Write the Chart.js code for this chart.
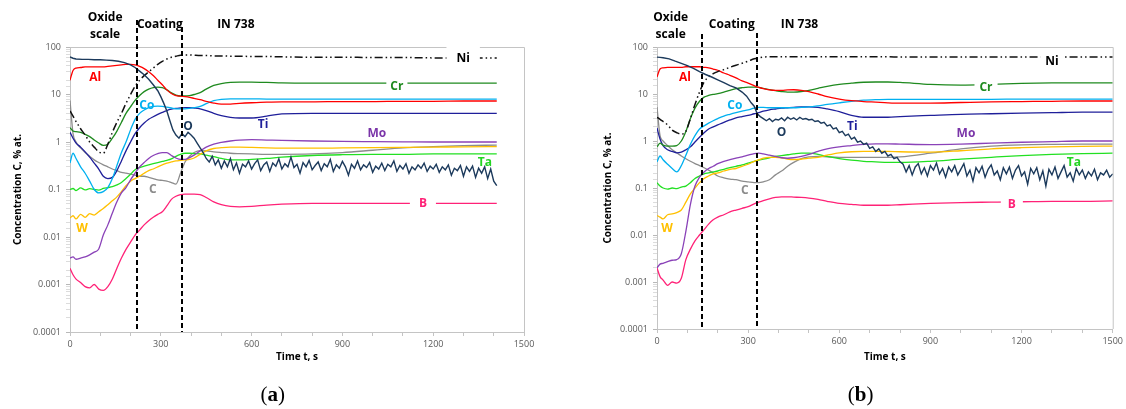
<!DOCTYPE html>
<html>
<head>
<meta charset="utf-8">
<script src="https://cdn.jsdelivr.net/npm/chart.js@4"></script>
<style>
  body { margin: 0; background: #fff; width: 1126px; height: 409px; overflow: hidden; position: relative; }
  .panel { position: absolute; top: 0; width: 563px; height: 409px; }
</style>
</head>
<body>
<div class="panel" style="left:0"><canvas id="chartA" width="563" height="409"></canvas></div>
<div class="panel" style="left:563px"><canvas id="chartB" width="563" height="409"></canvas></div>
<script>
// ---- panel (a) ----
const tA = [0,10,20,35,50,65,80,95,110,125,
  140,155,170,185,200,215,230,245,260,275,
  290,305,320,335,350,365,380,395,410,430,
  450,475,500,530,560,600,650,700,800,900,
  1000,1100,1200,1300,1410];

const niA = [4.5,3.5,2.7,1.9,1.4,1.0,0.78,0.62,0.58,0.9,
  1.6,2.6,4,6.5,10,15,20,25,30,36,
  43,50,56,61,64,67,68,68,67,66,
  66,65,65,64,64,63,63,62,61,61,
  60,60,59,59,59];
const alA = [20,32,36,37,38,38,38,38,38,39,
  40,41,42,43,43,42,39,35,30,25,
  20,16,12.5,10.5,9.5,9.2,9,8.7,8.3,7.8,
  7.2,6.6,6.3,6.3,6.5,6.7,6.9,7,7,7.1,
  7.1,7.2,7.2,7.3,7.3];
const crA = [2.0,1.7,1.65,1.6,1.45,1.3,1.1,0.95,0.85,0.9,
  1.2,1.7,2.6,4,5.5,7.5,9.5,11.5,13,14,
  14.3,14,12.5,10.8,9.7,9.3,9.3,9.5,10,11,
  13,15.5,17,18,18.3,18.3,18,17.5,17.3,17.3,
  17.3,17.3,17.3,17.3,17.3];
const coA = [0.36,0.58,0.45,0.3,0.22,0.15,0.1,0.085,0.09,0.11,
  0.17,0.32,0.6,1.0,1.8,3.0,4.0,4.7,5.3,5.6,
  5.7,5.6,5.4,5.2,5.0,5.0,5.0,5.1,5.3,5.6,
  6.4,7.4,7.9,8.1,8.1,8.1,8,8,8,8,
  8,8,8,8,8];
const tiA = [1.6,1.2,0.95,0.78,0.62,0.48,0.36,0.27,0.19,0.17,
  0.18,0.25,0.4,0.65,1.0,1.5,2.0,2.5,3.0,3.4,
  3.8,4.2,4.6,4.9,5.1,5.2,5.3,5.3,5.2,5.0,
  4.6,4.0,3.6,3.3,3.2,3.2,3.5,3.9,4.0,4.0,
  4.0,4.0,4.0,4.0,4.0];
const moA = [0.0036,0.0038,0.0034,0.0036,0.0038,0.0042,0.0048,0.0056,0.011,0.018,
  0.032,0.055,0.085,0.11,0.16,0.22,0.3,0.37,0.45,0.52,
  0.57,0.6,0.6,0.52,0.46,0.43,0.43,0.47,0.53,0.65,
  0.78,0.9,0.98,1.05,1.1,1.12,1.1,1.08,1.05,1.03,
  1.02,1.01,1.0,1.0,1.0];
const wA = [0.025,0.028,0.024,0.03,0.026,0.031,0.029,0.034,0.04,0.048,
  0.058,0.07,0.09,0.12,0.15,0.17,0.19,0.22,0.25,0.27,
  0.3,0.33,0.36,0.38,0.4,0.41,0.42,0.43,0.46,0.55,
  0.65,0.73,0.76,0.78,0.78,0.77,0.75,0.74,0.74,0.75,
  0.76,0.77,0.78,0.79,0.8];
const taA = [0.1,0.105,0.095,0.108,0.098,0.104,0.1,0.097,0.105,0.11,
  0.115,0.125,0.14,0.17,0.21,0.26,0.29,0.31,0.33,0.35,
  0.37,0.39,0.41,0.44,0.5,0.55,0.58,0.58,0.57,0.56,
  0.53,0.49,0.45,0.42,0.42,0.43,0.45,0.48,0.52,0.54,
  0.55,0.55,0.56,0.56,0.56];
const cA = [7.5,1.5,1.0,0.75,0.6,0.5,0.42,0.37,0.33,0.3,
  0.27,0.25,0.23,0.22,0.21,0.2,0.19,0.19,0.18,0.17,
  0.16,0.155,0.15,0.14,0.13,0.22,0.38,0.5,0.6,0.66,
  0.65,0.62,0.6,0.58,0.57,0.56,0.55,0.55,0.56,0.6,
  0.67,0.75,0.8,0.84,0.86];
const bA = [0.0022,0.0016,0.0013,0.0011,0.0009,0.00085,0.001,0.0008,0.00075,0.0009,
  0.0013,0.0022,0.0036,0.0055,0.0078,0.011,0.014,0.018,0.022,0.026,
  0.03,0.034,0.045,0.062,0.072,0.078,0.08,0.08,0.08,0.078,
  0.068,0.055,0.048,0.044,0.043,0.044,0.047,0.049,0.051,0.051,
  0.051,0.051,0.051,0.051,0.051];

const tOa = [0,10,20,40,60,80,100,120,140,160,
  180,200,215,230,245,260,275,290,300,310,
  320,330,340,350,360,370,380,390,400,410,
  420,430,440,450,
  460,470,480,490,500,510,520,530,540,550,
  560,570,580,590,600,610,620,630,640,650,
  660,670,680,690,700,710,720,730,740,750,
  760,770,780,790,800,810,820,830,840,850,
  860,870,880,890,900,910,920,930,940,950,
  960,970,980,990,1000,1010,1020,1030,1040,1050,
  1060,1070,1080,1090,1100,1110,1120,1130,1140,1150,
  1160,1170,1180,1190,1200,1210,1220,1230,1240,1250,
  1260,1270,1280,1290,1300,1310,1320,1330,1340,1350,
  1360,1370,1380,1390,1400,1410];
const oA = [62,58,56,55,55,54,54,53,52,50,
  47,42,37,31,26,21,16,12,9,6.5,
  4.5,2.8,1.8,1.4,1.2,1.5,1.3,1.6,1.4,1.2,
  0.95,0.75,0.6,0.45,
  0.38,0.5,0.33,0.42,0.28,0.4,0.3,0.45,0.26,0.36,
  0.22,0.34,0.3,0.4,0.27,0.35,0.42,0.25,0.33,0.38,
  0.24,0.36,0.31,0.44,0.27,0.35,0.3,0.48,0.29,0.34,
  0.22,0.37,0.3,0.41,0.26,0.32,0.38,0.25,0.35,0.3,
  0.43,0.24,0.33,0.28,0.39,0.3,0.2,0.34,0.28,0.4,
  0.26,0.33,0.29,0.37,0.23,0.31,0.27,0.36,0.25,0.34,
  0.3,0.4,0.24,0.32,0.27,0.35,0.22,0.3,0.26,0.33,
  0.28,0.36,0.24,0.31,0.27,0.34,0.23,0.3,0.26,0.33,
  0.2,0.28,0.25,0.32,0.19,0.3,0.24,0.31,0.18,0.28,
  0.22,0.3,0.17,0.27,0.15,0.12];

// ---- panel (b) ----
const tB = [0,10,20,35,50,65,80,95,110,125,
  140,155,170,185,200,220,240,260,280,300,
  320,335,350,370,390,410,430,450,475,500,
  530,560,600,640,680,720,760,800,900,1000,
  1100,1200,1300,1400,1500];

const niB = [3.2,2.9,2.6,2.2,1.7,1.5,1.4,1.6,3,6,
  11,18,23,27,30,33,37,41,45,50,
  56,59,61,62,62,62,62,62,62,62,
  62,62,62,62,62,62,62,61,61,61,
  61,61,61,61,61];
const alB = [23,34,36,37,37,37,37,38,38,38,
  38,37,36,34,32,28,25,22,19,17,
  15,13.8,13,12.3,12,12,12.2,12.3,12,11.2,
  10,8.8,7.8,7.2,6.9,6.7,6.5,6.4,6.4,6.6,
  6.8,6.9,7,7.1,7.1];
const crB = [0.75,0.9,0.82,0.78,0.78,0.8,1.0,1.6,3,5,
  7,8.6,9.3,9.8,10.2,11,12,13,13.6,14,
  14,13.8,13.2,12.4,11.8,11.3,11,11,11.3,12,
  13.2,14.5,16,17,17.8,18,18,17.6,16,15.5,
  16,16.8,17.2,17.3,17.3];
const coB = [0.36,0.48,0.4,0.32,0.26,0.22,0.3,0.5,0.85,1.3,
  1.8,2.1,2.4,2.7,3.0,3.4,3.7,4.0,4.3,4.6,
  5.0,5.2,5.2,5.1,5.1,5.1,5.1,5.1,5.2,5.3,
  5.6,6,6.5,7,7.4,7.6,7.7,7.7,7.7,7.7,
  7.7,7.8,7.8,7.8,7.8];
const tiB = [1.9,1.1,0.8,0.65,0.6,0.56,0.58,0.65,0.75,0.95,
  1.2,1.5,1.8,2.0,2.2,2.5,2.8,3.1,3.3,3.5,
  3.8,4.0,4.3,4.6,4.8,5.0,5.1,5.2,5.3,5.3,
  5.2,4.8,4.2,3.5,3.2,3.2,3.2,3.3,3.5,3.7,
  3.8,3.9,4.0,4.1,4.1];
const moB = [0.002,0.0024,0.0025,0.0027,0.0029,0.003,0.004,0.012,0.045,0.11,
  0.17,0.22,0.26,0.29,0.33,0.37,0.4,0.43,0.46,0.5,
  0.54,0.55,0.53,0.5,0.47,0.44,0.43,0.44,0.47,0.52,
  0.6,0.68,0.75,0.8,0.85,0.87,0.87,0.86,0.84,0.86,
  0.9,0.94,0.97,1.0,1.0];
const wB = [0.026,0.024,0.022,0.027,0.028,0.03,0.034,0.05,0.075,0.1,
  0.13,0.16,0.18,0.2,0.21,0.23,0.25,0.26,0.29,0.32,
  0.37,0.4,0.43,0.45,0.45,0.44,0.41,0.4,0.41,0.43,
  0.45,0.5,0.56,0.59,0.6,0.6,0.6,0.59,0.58,0.62,
  0.68,0.72,0.75,0.77,0.78];
const taB = [0.13,0.11,0.1,0.095,0.1,0.097,0.105,0.11,0.13,0.16,
  0.18,0.2,0.21,0.22,0.23,0.25,0.27,0.29,0.31,0.34,
  0.37,0.39,0.41,0.44,0.47,0.49,0.51,0.53,0.55,0.55,
  0.52,0.47,0.42,0.39,0.37,0.36,0.35,0.35,0.37,0.41,
  0.45,0.49,0.52,0.54,0.55];
const cB = [5.3,1.3,1.0,0.8,0.65,0.56,0.48,0.42,0.37,0.33,
  0.3,0.27,0.24,0.21,0.18,0.165,0.155,0.15,0.14,0.135,
  0.13,0.13,0.135,0.15,0.19,0.23,0.29,0.35,0.42,0.46,
  0.47,0.46,0.45,0.45,0.45,0.45,0.45,0.46,0.55,0.68,
  0.78,0.83,0.85,0.86,0.86];
const bB = [0.002,0.0013,0.0011,0.00085,0.001,0.00095,0.0012,0.003,0.005,0.0075,
  0.01,0.013,0.017,0.021,0.024,0.027,0.031,0.034,0.037,0.04,
  0.046,0.05,0.054,0.059,0.063,0.065,0.065,0.064,0.063,0.061,
  0.057,0.052,0.047,0.045,0.043,0.043,0.043,0.044,0.047,0.049,
  0.05,0.051,0.052,0.052,0.053];

const tOb = [0,10,20,40,60,80,100,120,140,160,
  180,200,220,240,260,280,295,310,320,330,
  340,350,360,370,380,390,400,410,420,430,
  440,450,460,470,480,490,500,510,520,530,
  540,550,560,570,580,590,600,610,620,630,
  640,650,660,670,680,690,700,710,720,730,
  740,750,760,770,780,790,800,
  810,820,830,840,850,860,870,880,890,900,
  910,920,930,940,950,960,970,980,990,1000,
  1010,1020,1030,1040,1050,1060,1070,1080,1090,1100,
  1110,1120,1130,1140,1150,1160,1170,1180,1190,1200,
  1210,1220,1230,1240,1250,1260,1270,1280,1290,1300,
  1310,1320,1330,1340,1350,1360,1370,1380,1390,1400,
  1410,1420,1430,1440,1450,1460,1470,1480,1490,1500];
const oB = [61,60,59,56,50,45,40,35,30,26,
  23,20,17.5,15,13.5,11,9,6.5,5.5,3.8,
  3.3,3.0,2.7,3.0,2.6,2.9,2.8,3.1,2.7,3.2,
  2.9,3.1,2.8,3.2,2.9,3.0,2.8,2.9,2.6,2.7,
  2.4,2.5,2.1,2.2,1.8,1.9,1.5,1.6,1.3,1.4,
  1.1,1.2,0.95,1.0,0.85,0.9,0.7,0.75,0.6,0.68,
  0.55,0.6,0.48,0.52,0.42,0.45,0.36,
  0.32,0.22,0.3,0.19,0.28,0.33,0.2,0.27,0.18,0.3,
  0.24,0.34,0.2,0.26,0.17,0.28,0.22,0.3,0.19,0.25,
  0.33,0.18,0.24,0.14,0.27,0.21,0.29,0.17,0.25,0.31,
  0.19,0.23,0.15,0.27,0.2,0.28,0.16,0.24,0.3,0.18,
  0.22,0.12,0.26,0.2,0.27,0.15,0.23,0.11,0.25,0.19,
  0.28,0.16,0.22,0.3,0.17,0.21,0.14,0.26,0.19,0.24,
  0.16,0.22,0.18,0.25,0.15,0.21,0.19,0.24,0.17,0.2];

// region boundaries (s) and label anchors (s, %)
const zonesA = [221, 370];
const zonesB = [148, 328];
const notesA = [
  ['Ni', 1299, 59], ['Al', 83, 23], ['Cr', 1080, 15], ['Co', 254, 5.9], ['Ti', 638, 2.4],
  ['O', 390, 2.2], ['Mo', 1014, 1.55], ['Ta', 1371, 0.38], ['C', 274, 0.102],
  ['W', 40, 0.0155], ['B', 1166, 0.051]
];
const notesB = [
  ['Ni', 1300, 50], ['Al', 92, 23], ['Cr', 1083, 14], ['Co', 256, 5.8], ['Ti', 643, 2.1],
  ['O', 410, 1.55], ['Mo', 1017, 1.48], ['Ta', 1372, 0.36], ['C', 289, 0.091],
  ['W', 33, 0.014], ['B', 1168, 0.046]
];

const colors = {
  O: '#1c3a5c', Ni: '#111111', Al: '#ff0000', Cr: '#1f8a1f', Co: '#00b0f0', Ti: '#1f1f9a',
  Mo: '#8a42b8', W: '#ffc000', Ta: '#22e022', C: '#8c8c8c', B: '#ff2277'
};
const textColors = { ...colors, Mo: '#7a35a8', Ta: '#22d422', Ni: '#000000' };

function pts(ts, vs) { return ts.map((t, i) => ({ x: t, y: vs[i] })); }

function series(name, ts, vs) {
  const ds = {
    label: name, data: pts(ts, vs), borderColor: colors[name], borderWidth: 1.3,
    pointRadius: 0, fill: false, cubicInterpolationMode: 'monotone'
  };
  if (name === 'Ni') { ds.borderDash = [8, 3, 1.5, 3, 1.5, 3]; ds.borderWidth = 1.5; }
  if (name === 'O') { ds.cubicInterpolationMode = 'default'; ds.tension = 0; ds.borderWidth = 1.4; }
  return ds;
}

function isDecade(v) { const e = Math.log10(v); return Math.abs(e - Math.round(e)) < 1e-6; }
function decadeLabel(v) { const e = Math.round(Math.log10(v)); return e < 0 ? v.toFixed(-e) : String(Math.round(v)); }

const notesPlugin = {
  id: 'notes',
  beforeDatasetsDraw(chart) {
    const { ctx, chartArea: a } = chart;
    ctx.save();
    ctx.strokeStyle = '#c4c4c4';
    ctx.lineWidth = 1;
    ctx.beginPath();
    ctx.moveTo(a.left, a.top + 0.5); ctx.lineTo(a.right + 0.5, a.top + 0.5); ctx.lineTo(a.right + 0.5, a.bottom);
    ctx.stroke();
    ctx.restore();
  },
  afterDatasetsDraw(chart, args, opts) {
    const { ctx, chartArea: a } = chart;
    const xs = chart.scales.x, ys = chart.scales.y;
    ctx.save();
    // zone boundaries
    ctx.strokeStyle = '#000';
    ctx.lineWidth = 2;
    ctx.setLineDash([5, 3]);
    opts.zones.forEach((t, i) => {
      const px = Math.round(xs.getPixelForValue(t));
      ctx.beginPath(); ctx.moveTo(px, opts.zoneTop[i]); ctx.lineTo(px, a.bottom); ctx.stroke();
    });
    ctx.setLineDash([]);
    // zone headers
    ctx.fillStyle = '#000';
    ctx.font = 'bold 12px "Open Sans"';
    ctx.textAlign = 'center';
    ctx.textBaseline = 'middle';
    opts.headers.forEach(h => {
      const px = xs.getPixelForValue(h[1]);
      ctx.fillText(h[0], px, h[2]);
    });
    // element labels
    opts.notes.forEach(n => {
      const px = xs.getPixelForValue(n[1]), py = ys.getPixelForValue(n[2]);
      const w = ctx.measureText(n[0]).width;
      const gap = opts.gaps[n[0]];
      if (gap) {
        ctx.fillStyle = '#fff';
        ctx.fillRect(px - w / 2 - gap[0], py - gap[1], w + 2 * gap[0], 2 * gap[1]);
      }
      ctx.fillStyle = textColors[n[0]];
      ctx.fillText(n[0], px, py + 0.5);
    });
    // panel tag "(a)"
    const tx = xs.getPixelForValue(670), ty = 401;
    ctx.textBaseline = 'alphabetic';
    ctx.textAlign = 'left';
    ctx.fillStyle = '#000';
    ctx.font = '21px "Liberation Serif"';
    const wl = ctx.measureText('(').width, wr = ctx.measureText(')').width;
    ctx.font = 'bold 21px "Liberation Serif"';
    const wm = ctx.measureText(opts.tag).width;
    let x0 = tx - (wl + wm + wr) / 2;
    ctx.font = '21px "Liberation Serif"';
    ctx.fillText('(', x0, ty);
    ctx.font = 'bold 21px "Liberation Serif"';
    ctx.fillText(opts.tag, x0 + wl, ty);
    ctx.font = '21px "Liberation Serif"';
    ctx.fillText(')', x0 + wl + wm, ty);
    ctx.restore();
  }
};

Chart.defaults.font.family = '"Open Sans", sans-serif';

function makePanel(id, p) {
  const datasets = [
    series('O', p.tO, p.o), series('Ni', p.t, p.ni), series('Al', p.t, p.al), series('Cr', p.t, p.cr),
    series('Co', p.t, p.co), series('Ti', p.t, p.ti), series('Mo', p.t, p.mo), series('W', p.t, p.w),
    series('Ta', p.t, p.ta), series('C', p.t, p.c), series('B', p.t, p.b)
  ];
  return new Chart(document.getElementById(id), {
    type: 'line',
    data: { datasets },
    plugins: [notesPlugin],
    options: {
      responsive: false,
      animation: false,
      layout: { padding: { left: p.padLeft, right: p.padRight, top: 47, bottom: 46 } },
      plugins: {
        legend: { display: false },
        tooltip: { enabled: false },
        notes: p.notes
      },
      scales: {
        x: {
          type: 'linear', min: 0, max: 1500,
          afterFit: s => { s.height = p.xHeight; },
          grid: { drawOnChartArea: false, drawTicks: true, tickLength: 4, color: '#c4c4c4' },
          border: { color: '#c4c4c4' },
          ticks: {
            stepSize: 100, autoSkip: false, maxRotation: 0, padding: 3,
            color: '#595959', font: { size: 9 },
            callback: v => (v % 300 === 0 ? String(v) : '')
          },
          title: { display: true, text: 'Time t, s', color: '#000', font: { size: 10, weight: 'bold' }, padding: 0 }
        },
        y: {
          type: 'logarithmic', min: 0.0001, max: 100,
          afterFit: s => { s.width = p.yWidth; },
          grid: {
            drawOnChartArea: false, drawTicks: true, tickLength: 4,
            color: c => (c.tick && isDecade(c.tick.value) ? '#b8b8b8' : '#dcdcdc')
          },
          border: { color: '#c4c4c4' },
          ticks: {
            autoSkip: false, padding: 5, color: '#595959', font: { size: 9 },
            callback: v => (isDecade(v) ? decadeLabel(v) : '')
          },
          title: { display: true, text: 'Concentration C, % at.', color: '#000', font: { size: 10, weight: 'bold' }, padding: { top: 4, bottom: 0 } }
        }
      }
    }
  });
}

makePanel('chartA', {
  t: tA, tO: tOa, o: oA, ni: niA, al: alA, cr: crA, co: coA, ti: tiA, mo: moA, w: wA, ta: taA, c: cA, b: bA,
  padLeft: 8, yWidth: 62, padRight: 39, xHeight: 31,
  notes: {
    tag: 'a', zones: zonesA, zoneTop: [20, 27],
    headers: [['Oxide', 116, 18], ['scale', 116, 35], ['Coating', 297, 25], ['IN 738', 548, 25]],
    notes: notesA,
    gaps: { Ni: [10, 12], Cr: [4, 6], B: [9, 6] }
  }
});

makePanel('chartB', {
  t: tB, tO: tOb, o: oB, ni: niB, al: alB, cr: crB, co: coB, ti: tiB, mo: moB, w: wB, ta: taB, c: cB, b: bB,
  padLeft: 35, yWidth: 59, padRight: 12, xHeight: 34,
  notes: {
    tag: 'b', zones: zonesB, zoneTop: [34, 33],
    headers: [['Oxide', 45, 18], ['scale', 45, 35], ['Coating', 246, 25], ['IN 738', 469, 25]],
    notes: notesB,
    gaps: { Ni: [5, 6], Cr: [5, 6], B: [7, 6] }
  }
});
</script>
</body>
</html>
